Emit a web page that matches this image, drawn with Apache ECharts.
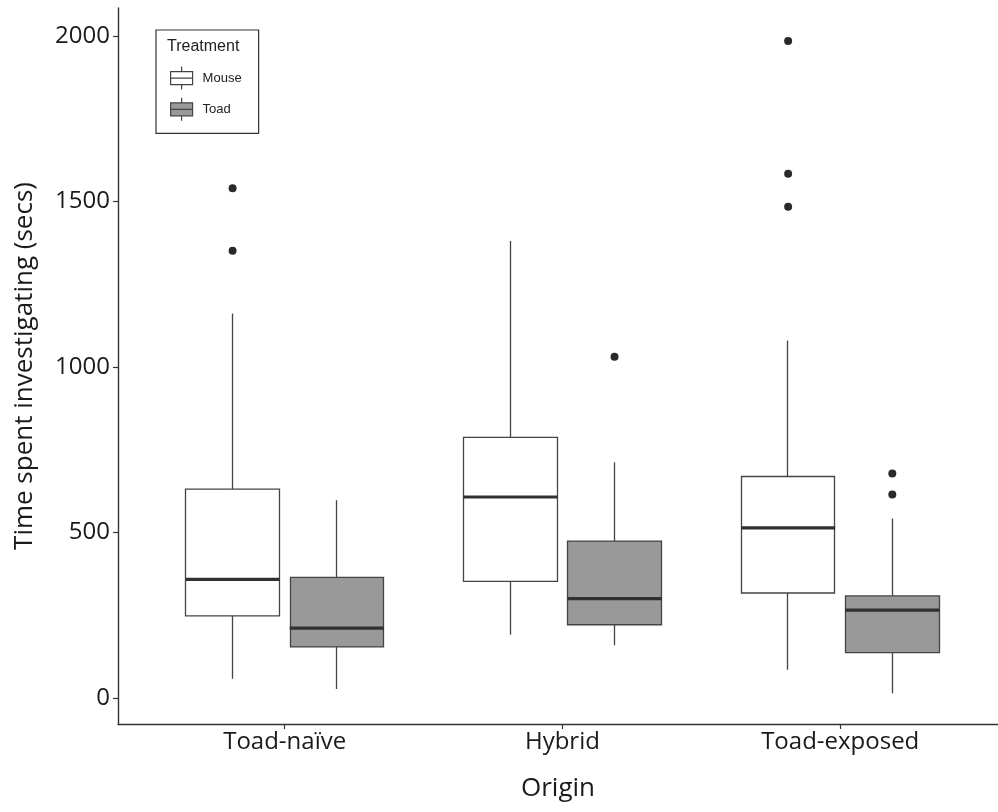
<!DOCTYPE html>
<html>
<head>
<meta charset="utf-8">
<script src="https://cdn.jsdelivr.net/npm/echarts@6/dist/echarts.min.js"></script>
<style>
  html, body { margin: 0; padding: 0; background: #fff; }
  #chart { width: 998px; height: 812px; }
</style>
</head>
<body>
<div id="chart"></div>
<script>
// ---- data ----
const categories = ['Toad-naïve', 'Hybrid', 'Toad-exposed'];
const treatments = ['Mouse', 'Toad'];

const mouseMin    = [58, 191, 85];
const mouseQ1     = [248, 352, 317];
const mouseMedian = [358, 607, 514];
const mouseQ3     = [631, 787, 669];
const mouseMax    = [1162, 1381, 1080];
const mouseOutliers = [[0, 1540], [0, 1351], [2, 1985], [2, 1584], [2, 1484]];

const toadMin    = [27, 159, 14];
const toadQ1     = [154, 221, 137];
const toadMedian = [211, 300, 265];
const toadQ3     = [364, 474, 308];
const toadMax    = [597, 712, 542];
const toadOutliers = [[1, 1031], [2, 678], [2, 615]];

const yTicks = [0, 500, 1000, 1500, 2000];

// ---- layout / style constants ----
const DODGE = 0.1875;
const BOX_W = 94;
const FONT = "'Open Sans', sans-serif";
const LEG_FONT = "'Liberation Sans', Arial, sans-serif";
const LINE = '#444444';
const AXIS = '#333333';
const TEXT = '#1a1a1a';

function pos(i, k) { return (i + 1) + (k === 0 ? -DODGE : DODGE); }
function boxData(k, q1, q3, lo, hi) {
  return categories.map((c, i) => [pos(i, k), q1[i], q3[i], lo[i], hi[i]]);
}
function medData(k, med) { return categories.map((c, i) => [pos(i, k), med[i]]); }
function outData(k, outs) { return outs.map(o => [pos(o[0], k), o[1]]); }

const legendIcon = 'path://M11,0L11,5M0,5L22,5L22,18L0,18ZM0,11.5L22,11.5M11,18L11,23';

const chart = echarts.init(document.getElementById('chart'), null, { renderer: 'canvas' });
chart.setOption({
  animation: false,
  backgroundColor: '#ffffff',
  title: {
    text: 'Treatment', left: 167, top: 39, padding: 0,
    textStyle: { fontFamily: LEG_FONT, fontSize: 16, fontWeight: 'normal', color: '#222' }
  },
  legend: {
    orient: 'vertical', left: 156, top: 30,
    padding: [36, 17, 12, 14],
    borderColor: '#333', borderWidth: 1.2,
    itemWidth: 22, itemHeight: 23, itemGap: 7,
    textStyle: { fontFamily: LEG_FONT, fontSize: 13, color: '#222', padding: [0, 0, 0, 5] },
    data: [
      { name: 'Mouse', icon: legendIcon, itemStyle: { color: '#ffffff', borderColor: '#444', borderWidth: 1.2 } },
      { name: 'Toad', icon: legendIcon, itemStyle: { color: '#999999', borderColor: '#444', borderWidth: 1.2 } }
    ],
    selectedMode: false
  },
  grid: { left: 118, right: 0, top: 8, bottom: 88, containLabel: false },
  xAxis: {
    type: 'value', min: 0.4, max: 3.568,
    name: 'Origin', nameLocation: 'middle', nameGap: 52,
    nameTextStyle: { fontFamily: FONT, fontSize: 26, color: TEXT },
    axisLine: { show: true, onZero: false, lineStyle: { color: AXIS, width: 1.4 } },
    axisTick: { show: true, customValues: [1, 2, 3], length: 5, lineStyle: { color: AXIS, width: 1.2 } },
    axisLabel: {
      customValues: [1, 2, 3], margin: 6,
      fontFamily: FONT, fontSize: 24, color: TEXT,
      formatter: v => categories[Math.round(v) - 1]
    },
    splitLine: { show: false }
  },
  yAxis: {
    type: 'value', min: -79, max: 2085,
    name: 'Time spent investigating (secs)', nameLocation: 'middle', nameGap: 80,
    nameTextStyle: { fontFamily: FONT, fontSize: 26, color: TEXT },
    axisLine: { show: true, onZero: false, lineStyle: { color: AXIS, width: 1.4 } },
    axisTick: { show: true, customValues: yTicks, length: 5, lineStyle: { color: AXIS, width: 1.2 } },
    axisLabel: {
      customValues: yTicks, margin: 8, fontFamily: FONT, fontSize: 24, color: TEXT,
      formatter: v => String(Math.round(v))
    },
    splitLine: { show: false }
  },
  series: [
    {
      name: 'Mouse', type: 'candlestick', barWidth: BOX_W,
      data: boxData(0, mouseQ1, mouseQ3, mouseMin, mouseMax),
      itemStyle: { color: '#ffffff', color0: '#ffffff', borderColor: LINE, borderColor0: LINE, borderWidth: 1.3 }
    },
    {
      name: 'Toad', type: 'candlestick', barWidth: BOX_W,
      data: boxData(1, toadQ1, toadQ3, toadMin, toadMax),
      itemStyle: { color: '#999999', color0: '#999999', borderColor: LINE, borderColor0: LINE, borderWidth: 1.3 }
    },
    {
      name: 'Mouse median', type: 'scatter', symbol: 'rect', symbolSize: [BOX_W, 3.2],
      data: medData(0, mouseMedian), itemStyle: { color: '#303030', opacity: 1 }, z: 5
    },
    {
      name: 'Toad median', type: 'scatter', symbol: 'rect', symbolSize: [BOX_W, 3.2],
      data: medData(1, toadMedian), itemStyle: { color: '#303030', opacity: 1 }, z: 5
    },
    {
      name: 'Mouse outliers', type: 'scatter', symbol: 'circle', symbolSize: 8,
      data: outData(0, mouseOutliers), itemStyle: { color: '#2a2a2a', opacity: 1 }
    },
    {
      name: 'Toad outliers', type: 'scatter', symbol: 'circle', symbolSize: 8,
      data: outData(1, toadOutliers), itemStyle: { color: '#2a2a2a', opacity: 1 }
    }
  ]
});
</script>
</body>
</html>
